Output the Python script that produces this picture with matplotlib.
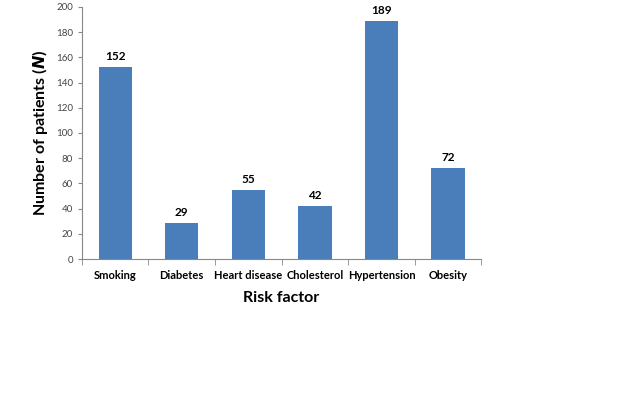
import matplotlib
matplotlib.use('Agg')
import matplotlib.pyplot as plt
import numpy as np

plt.rcParams['font.family'] = ['Lato', 'DejaVu Sans']

factors = ['Smoking', 'Diabetes', 'Heart disease', 'Cholesterol', 'Hypertension', 'Obesity']
patients = [152, 29, 55, 42, 189, 72]

fig = plt.figure(figsize=(6.4, 4.03), dpi=100)
ax = fig.add_axes([0.128, 0.357, 0.624, 0.626])

x = np.arange(len(factors))
ax.bar(x, patients, width=0.5, color='#4A7EBB')
for xi, v in zip(x, patients):
    ax.text(xi, v + 4, str(v), ha='center', va='bottom', fontsize=8.5, fontweight='bold')

ax.set_xlim(-0.5, len(factors) - 0.5)
ax.set_ylim(0, 200)
ax.set_yticks(np.arange(0, 201, 20))
ax.tick_params(axis='y', labelsize=7, colors='#888888', labelcolor='#444444', length=3)
ax.set_xticks(x)
ax.set_xticklabels(factors, fontsize=8, fontweight='bold')
ax.tick_params(axis='x', length=0, pad=8)
# boundary ticks between categories
ax.set_xticks(np.arange(-0.5, len(factors), 1), minor=True)
ax.tick_params(axis='x', which='minor', length=4, color='#888888')

for side in ['top', 'right']:
    ax.spines[side].set_visible(False)
for side in ['left', 'bottom']:
    ax.spines[side].set_color('#888888')

ax.set_ylabel('Number of patients ($\\mathbfit{N}$)', fontsize=11.5, fontweight='bold', labelpad=4)
ax.set_xlabel('Risk factor', fontsize=11.5, fontweight='bold', labelpad=7)

plt.savefig('out.png', dpi=100)
